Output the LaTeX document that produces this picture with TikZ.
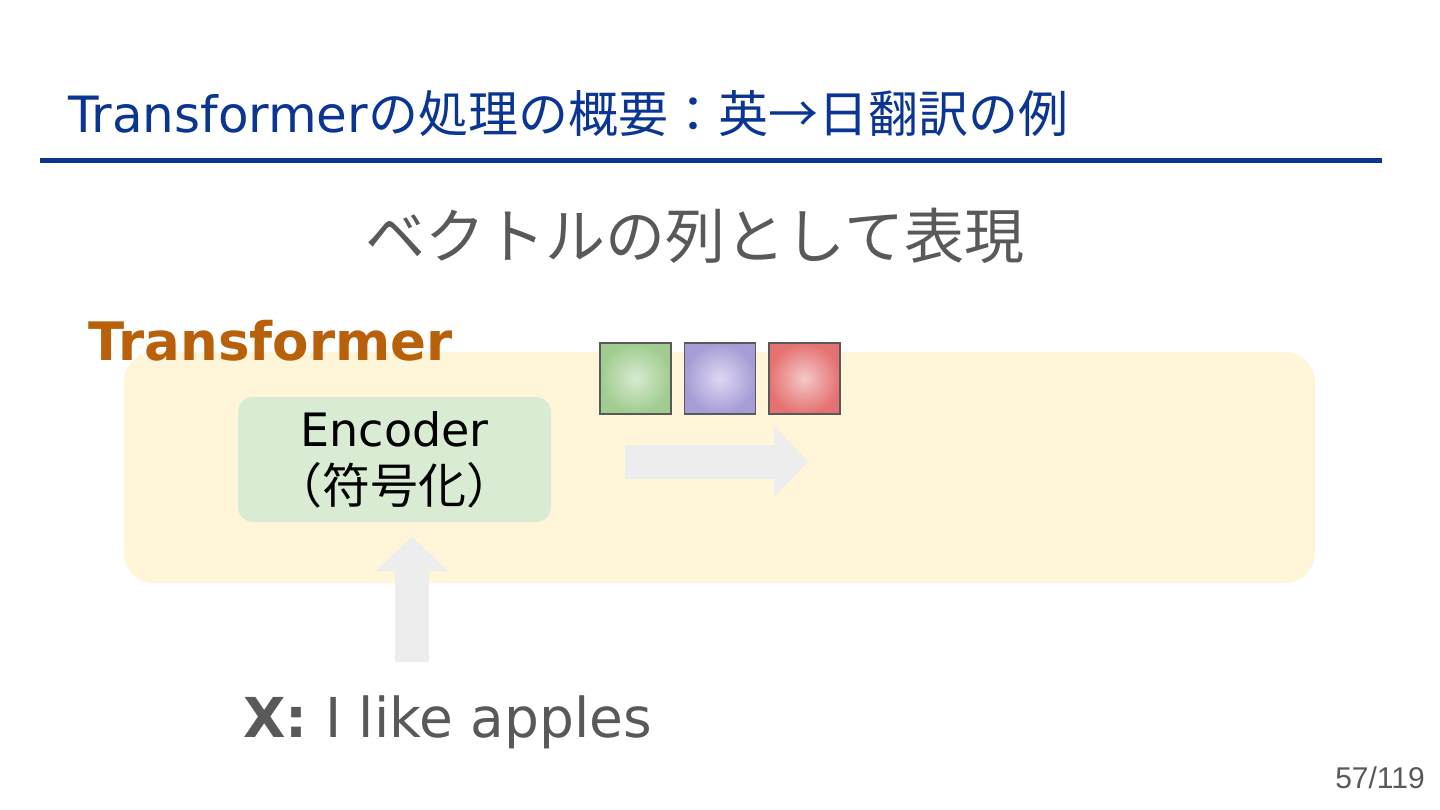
\documentclass[tikz,border=0pt]{standalone}
\usepackage{fontspec}
\setmainfont{DejaVu Sans}
\newfontfamily\jp{Noto Sans CJK JP}
\newfontfamily\pagefont{Liberation Sans}
\usetikzlibrary{positioning, arrows.meta}
\definecolor{titleblue}{HTML}{0B3592}
\definecolor{textgray}{HTML}{595959}
\definecolor{tforange}{HTML}{B8610A}
\definecolor{tfyellow}{HTML}{FFF5D9}
\definecolor{encgreen}{HTML}{D9EBD3}
\definecolor{arrowgray}{HTML}{EDEDED}
\tikzset{
	node distance=12pt,
	vecbox/.style={draw=black!65, line width=1.4pt, minimum size=71pt, inner sep=0pt, shading=radial},
	blockarrow/.style={draw=arrowgray, line width=34pt, -{Triangle[width=70pt, length=34pt]}}
}

\begin{document}
\begin{tikzpicture}[x=1pt, y=-1pt]
	\useasboundingbox[fill=white] (0,0) rectangle (1440,810);

	% title
	\node[anchor=base west, inner sep=0pt, text=titleblue, font=\fontsize{50}{60}\selectfont] (title) at (68,133) {Transformer{\jp の処理の概要：英→日翻訳の例}};
	\draw[titleblue, line width=5pt] (40,161) -- (1382,161);

	\node[anchor=base, inner sep=0pt, text=textgray, font=\jp\fontsize{60}{72}\selectfont] (sub) at (695,259) {ベクトルの列として表現};

	% transformer frame
	\node[fill=tfyellow, rounded corners=30pt, minimum width=1191pt, minimum height=231pt] (tf) at (719.5,467.5) {};
	\node[anchor=base west, inner sep=0pt, text=tforange, font=\fontsize{53}{64}\selectfont\bfseries] (tflabel) at (88,360) {Transformer};

	% encoder
	\node[fill=encgreen, rounded corners=15pt, minimum width=313pt, minimum height=125pt, align=center, font=\fontsize{46}{57}\selectfont] (enc) at (394.5,459.5) {Encoder\\{\jp\fontsize{48}{57}\selectfont （符号化）}};

	% vectors
	\node[vecbox, inner color={rgb,255:red,216;green,234;blue,208}, outer color={rgb,255:red,160;green,204;blue,143}] (v1) at (635.5,378.5) {};
	\node[vecbox, right=12pt of v1, inner color={rgb,255:red,222;green,216;blue,242}, outer color={rgb,255:red,166;green,156;blue,214}] (v2) {};
	\node[vecbox, right=12pt of v2, inner color={rgb,255:red,244;green,200;blue,200}, outer color={rgb,255:red,229;green,114;blue,114}] (v3) {};

	\coordinate (r0) at (625,461.5);
	\coordinate (r1) at (808,461.5);
	\draw[blockarrow] (r0) -- (r1);

	% input
	\node[anchor=base west, inner sep=0pt, text=textgray, font=\fontsize{55}{66}\selectfont] (x) at (243,737) {\textbf{X:} I like apples};
	\coordinate (u0) at (412,662);
	\coordinate (u1) at (412,537);
	\draw[blockarrow] (u0) -- (u1);

	\node[anchor=base east, inner sep=0pt, text=textgray, font=\pagefont\fontsize{30}{36}\selectfont] (page) at (1425,788) {57/119};
\end{tikzpicture}
\end{document}
